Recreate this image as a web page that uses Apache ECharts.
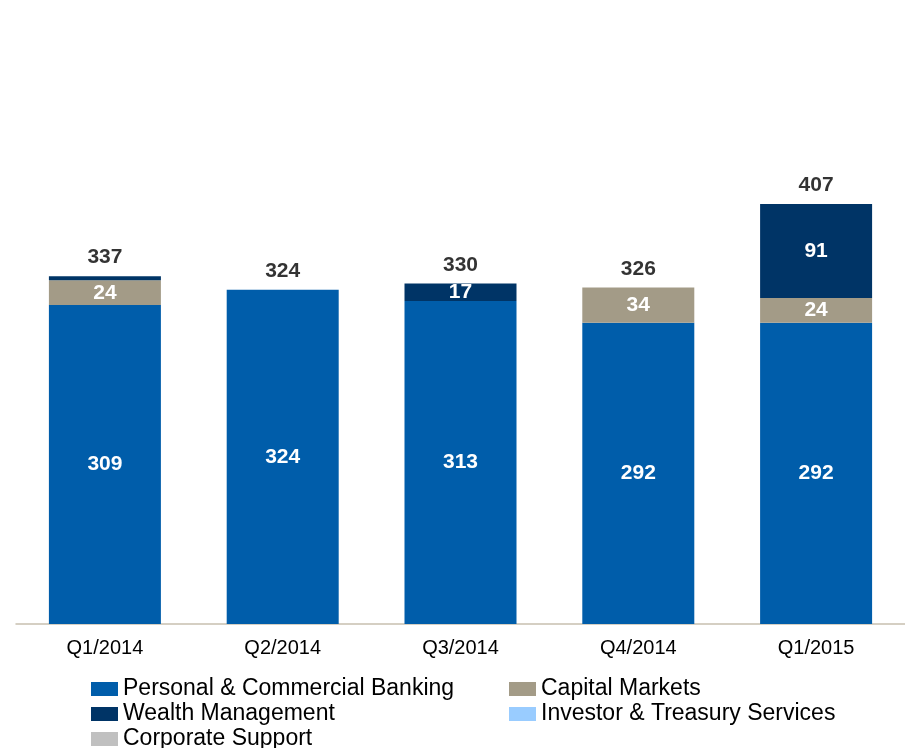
<!DOCTYPE html>
<html>
<head>
<meta charset="utf-8">
<script src="https://cdn.jsdelivr.net/npm/echarts@6/dist/echarts.min.js"></script>
<style>html,body{margin:0;padding:0;background:#fff;}#c{width:905px;height:748px;}</style>
</head>
<body>
<div id="c"></div>
<script>
var categories = ['Q1/2014', 'Q2/2014', 'Q3/2014', 'Q4/2014', 'Q1/2015'];
var personalCommercial = [309, 324, 313, 292, 292];
var capitalMarkets = [24, 0, 0, 34, 24];
var wealthManagement = [4, 0, 17, 0, 91];
var investorTreasury = [0, 0, 0, 0, 0];
var corporateSupport = [0, 0, 0, 0, 0];
var totals = [337, 324, 330, 326, 407];

var FONT = '"Liberation Sans", Arial, sans-serif';
var chart = echarts.init(document.getElementById('c'));

function seg(name, data, color) {
  return {
    name: name, type: 'bar', stack: 'a', data: data, barWidth: 112,
    itemStyle: { color: color },
    label: {
      show: true, position: 'inside', color: '#fff', fontWeight: 'bold',
      fontSize: 21, fontFamily: FONT,
      formatter: function (p) { return p.value >= 10 ? String(p.value) : ''; }
    },
    emphasis: { disabled: true }
  };
}

function leg(name, left, centerY) {
  return {
    left: left, top: centerY - 12, padding: 0, itemWidth: 27, itemHeight: 14,
    icon: 'rect', selectedMode: false,
    textStyle: { fontSize: 23, color: '#000', fontFamily: FONT, lineHeight: 24 },
    data: [name]
  };
}

chart.setOption({
  animation: false,
  backgroundColor: '#fff',
  grid: { left: 16, right: 0, top: 108, bottom: 124, containLabel: false },
  legend: [
    leg('Personal & Commercial Banking', 91, 689),
    leg('Wealth Management', 91, 714),
    leg('Corporate Support', 91, 739),
    leg('Capital Markets', 509, 689),
    leg('Investor & Treasury Services', 509, 714)
  ],
  xAxis: {
    type: 'category', data: categories,
    axisLine: { lineStyle: { color: '#C8C0B0', width: 1.5 } },
    axisTick: { show: false },
    axisLabel: { color: '#000', fontSize: 20, fontFamily: FONT, margin: 14 }
  },
  yAxis: { type: 'value', min: 0, max: 500, show: false, splitLine: { show: false } },
  series: [
    seg('Personal & Commercial Banking', personalCommercial, '#005DAA'),
    seg('Capital Markets', capitalMarkets, '#A39B87'),
    seg('Wealth Management', wealthManagement, '#003466'),
    seg('Investor & Treasury Services', investorTreasury, '#99CCFF'),
    seg('Corporate Support', corporateSupport, '#C0C0C0'),
    {
      name: 'Total', type: 'scatter', data: totals, symbolSize: 0.1,
      itemStyle: { color: 'transparent' },
      label: { show: true, position: 'top', distance: 8, color: '#000', fontWeight: 'bold',
        fontSize: 21, fontFamily: FONT },
      emphasis: { disabled: true }, z: 10
    }
  ]
});
</script>
</body>
</html>
